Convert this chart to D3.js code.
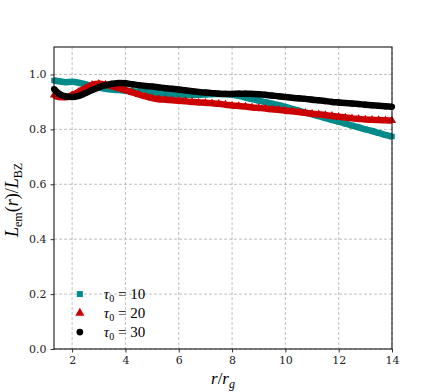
<!DOCTYPE html>
<html>
<head>
<meta charset="utf-8">
<script src="https://cdn.jsdelivr.net/npm/d3@7"></script>
<style>
  body { margin: 0; background: #fff; }
  svg text { font-family: "Liberation Serif", "DejaVu Serif", serif; }
</style>
</head>
<body>
<div id="chart"></div>
<script>
const WIDTH = 436, HEIGHT = 392;
const MARGIN = { top: 47, right: 44, bottom: 43, left: 54 };
const INNER_WIDTH = WIDTH - MARGIN.left - MARGIN.right;
const INNER_HEIGHT = HEIGHT - MARGIN.top - MARGIN.bottom;

// radius r / r_g
const rValues = [1.32, 1.5, 1.75, 2.0, 2.25, 2.5, 2.75, 3.0, 3.25, 3.5, 3.75, 4.0, 4.25, 4.5, 4.75,
  5.0, 5.25, 5.5, 5.75, 6.0, 6.25, 6.5, 6.75, 7.0, 7.25, 7.5, 7.75, 8.0, 8.25, 8.5, 8.75,
  9.0, 9.25, 9.5, 9.75, 10.0, 10.25, 10.5, 10.75, 11.0, 11.25, 11.5, 11.75, 12.0, 12.25,
  12.5, 12.75, 13.0, 13.25, 13.5, 13.75, 14.0];

const tau10 = [.978, .975, .972, .973, .970, .964, .958, .952, .948, .945, .943, .941, .939, .937, .935,
  .933, .931, .929, .928, .927, .926, .926, .926, .927, .928, .929, .929, .927, .922, .916, .910,
  .905, .899, .894, .888, .882, .875, .868, .861, .855, .848, .841, .834, .828, .821,
  .814, .807, .800, .794, .787, .780, .774];

const tau20 = [.925, .918, .917, .925, .937, .950, .962, .966, .963, .957, .950, .943, .935, .927, .920,
  .914, .910, .908, .906, .904, .902, .900, .898, .897, .895, .893, .890, .887, .885, .883, .880,
  .878, .876, .873, .871, .868, .866, .863, .860, .857, .855, .852, .849, .846, .843,
  .840, .838, .836, .835, .834, .833, .832];

const tau30 = [.947, .930, .920, .918, .922, .932, .943, .953, .961, .966, .969, .968, .964, .961, .958,
  .956, .953, .950, .948, .945, .942, .939, .936, .934, .932, .930, .929, .929, .930, .930, .929,
  .928, .926, .923, .921, .918, .915, .913, .911, .908, .906, .903, .900, .898, .896,
  .894, .892, .890, .888, .886, .884, .882];

const xTicks = [2, 4, 6, 8, 10, 12, 14];
const yTicks = [0.0, 0.2, 0.4, 0.6, 0.8, 1.0];

const seriesNames = ["10", "20", "30"];
const seriesValues = [tau10, tau20, tau30];
const COLORS = ["#008b8b", "#cc0000", "#000000"];
const SHAPES = [d3.symbolSquare, d3.symbolTriangle, d3.symbolCircle];

const svg = d3.select("#chart")
  .append("svg")
  .attr("width", WIDTH)
  .attr("height", HEIGHT)
  .append("g")
  .attr("transform", `translate(${MARGIN.left},${MARGIN.top})`);

const x = d3.scaleLinear().domain([1.32, 14]).range([0, INNER_WIDTH]);
const y = d3.scaleLinear().domain([0, 1.1]).range([INNER_HEIGHT, 0]);

// --- Grid ---
svg.append("g")
  .selectAll("line")
  .data(xTicks)
  .join("line")
  .attr("x1", d => x(d)).attr("x2", d => x(d))
  .attr("y1", 0).attr("y2", INNER_HEIGHT)
  .attr("stroke", "#b0b0b0").attr("stroke-width", 0.8)
  .attr("stroke-dasharray", "3,2");

svg.append("g")
  .selectAll("line")
  .data(yTicks)
  .join("line")
  .attr("x1", 0).attr("x2", INNER_WIDTH)
  .attr("y1", d => y(d)).attr("y2", d => y(d))
  .attr("stroke", "#b0b0b0").attr("stroke-width", 0.8)
  .attr("stroke-dasharray", "3,2");

// --- Series ---
const line = d3.line()
  .x((d, i) => x(rValues[i]))
  .y(d => y(d))
  .curve(d3.curveMonotoneX);

seriesValues.forEach((vals, k) => {
  svg.append("path")
    .datum(vals)
    .attr("fill", "none")
    .attr("stroke", COLORS[k])
    .attr("stroke-width", 6.5)
    .attr("d", line);

  svg.append("g")
    .selectAll("path")
    .data(vals)
    .join("path")
    .attr("transform", (d, i) => `translate(${x(rValues[i])},${y(d)})`)
    .attr("d", d3.symbol(SHAPES[k], 30))
    .attr("fill", COLORS[k]);
});

// --- Axes ---
const xAxis = svg.append("g")
  .attr("transform", `translate(0,${INNER_HEIGHT})`)
  .call(d3.axisBottom(x).tickValues(xTicks).tickFormat(d3.format("d")).tickSize(3.5).tickPadding(4));

const yAxis = svg.append("g")
  .call(d3.axisLeft(y).tickValues(yTicks).tickFormat(d3.format(".1f")).tickSize(3.5).tickPadding(4));

[xAxis, yAxis].forEach(a => {
  a.select(".domain").remove();
  a.selectAll("line").attr("stroke", "#000").attr("stroke-width", 0.8);
  a.selectAll("text").attr("fill", "#222").style("font-size", "11px")
    .style("font-family", "'DejaVu Serif', serif");
});

// frame
svg.append("rect")
  .attr("x", 0).attr("y", 0)
  .attr("width", INNER_WIDTH).attr("height", INNER_HEIGHT)
  .attr("fill", "none").attr("stroke", "#000").attr("stroke-width", 1);

// --- Axis labels ---
const xLabel = svg.append("text")
  .attr("x", INNER_WIDTH / 2)
  .attr("y", INNER_HEIGHT + 35)
  .attr("text-anchor", "middle")
  .style("font-size", "17px");
xLabel.append("tspan").attr("font-style", "italic").text("r");
xLabel.append("tspan").text("/");
xLabel.append("tspan").attr("font-style", "italic").text("r");
xLabel.append("tspan").attr("font-style", "italic").attr("dy", 4).style("font-size", "12px").text("g");

const yLabel = svg.append("text")
  .attr("transform", `translate(${-36},${INNER_HEIGHT / 2 + 2}) rotate(-90)`)
  .attr("text-anchor", "middle")
  .style("font-size", "18px");
yLabel.append("tspan").attr("font-style", "italic").text("L");
yLabel.append("tspan").attr("dy", 4).style("font-size", "12px").text("em");
yLabel.append("tspan").attr("dy", -4).text("(");
yLabel.append("tspan").attr("font-style", "italic").text("r");
yLabel.append("tspan").text(")/");
yLabel.append("tspan").attr("font-style", "italic").text("L");
yLabel.append("tspan").attr("dy", 4).style("font-size", "12px").text("BZ");

// --- Legend ---
const legend = svg.append("g")
  .attr("transform", `translate(${x(2.29)},${y(0.2)})`);

seriesNames.forEach((name, k) => {
  const row = legend.append("g").attr("transform", `translate(0,${k * 19})`);
  row.append("path")
    .attr("d", d3.symbol(SHAPES[k], 36))
    .attr("fill", COLORS[k]);
  const t = row.append("text")
    .attr("x", 24).attr("y", 5)
    .style("font-size", "15px");
  t.append("tspan").attr("font-style", "italic").text("τ");
  t.append("tspan").attr("dy", 3).style("font-size", "10px").text("0");
  t.append("tspan").attr("dy", -3).text(" = " + name);
});
</script>
</body>
</html>
